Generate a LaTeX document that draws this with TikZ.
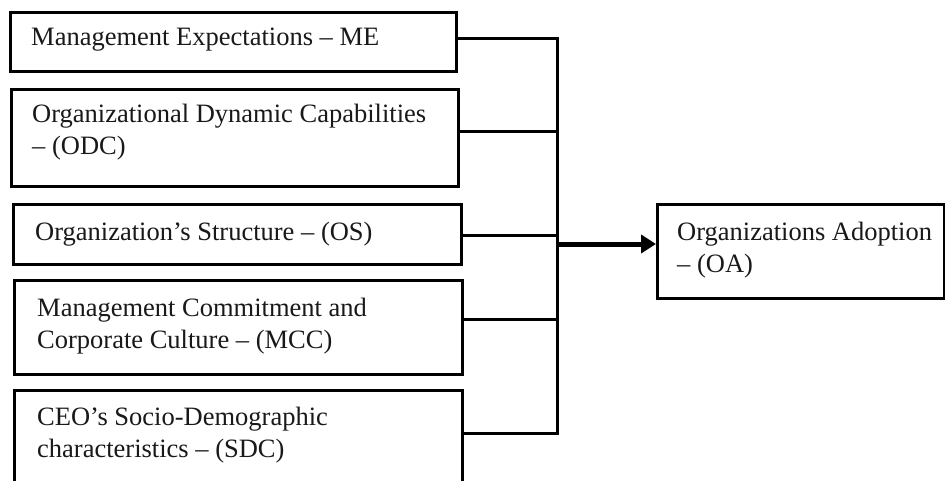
\documentclass[tikz,border=0pt]{standalone}
\usepackage{fontspec}
\setmainfont{Liberation Serif}
\usetikzlibrary{arrows.meta,calc}
\begin{document}
\begin{tikzpicture}[x=1pt,y=-1pt,
  boxst/.style={draw=black,line width=3pt,fill=none,inner sep=0pt,anchor=north west},
  lbl/.style={anchor=base west,inner sep=0pt,align=left,text=black!90,
    font=\fontsize{26.5}{32}\selectfont},
  link/.style={draw=black,line width=3pt},
  mainarrow/.style={draw=black,line width=5pt,-{Triangle[length=15pt,width=18pt]}}]
\useasboundingbox (0,0) rectangle (945,480);
\fill[white] (0,0) rectangle (945,480);
\begin{scope}
\clip (0,0) rectangle (945,480);
% boxes
\node[boxst,minimum width=446pt,minimum height=59pt] (me) at (8.5,11) {};
\node[boxst,minimum width=447pt,minimum height=97pt] (odc) at (9.5,88) {};
\node[boxst,minimum width=448pt,minimum height=60pt] (os) at (12,203) {};
\node[boxst,minimum width=448pt,minimum height=94pt] (mcc) at (13,279) {};
\node[boxst,minimum width=448pt,minimum height=100pt] (sdc) at (13,389) {};
\node[boxst,minimum width=287pt,minimum height=94pt] (oa) at (656,203) {};
% labels (anchor base = baseline of the last line)
\node[lbl] (tme) at (31,45) {Management Expectations -- ME};
\node[lbl] (todc) at (32,154) {Organizational Dynamic Capabilities\\-- (ODC)};
\node[lbl] (tos) at (35,240) {Organization’s Structure -- (OS)};
\node[lbl] (tmcc) at (37,348) {Management Commitment and\\Corporate Culture -- (MCC)};
\node[lbl] (tsdc) at (37,457) {CEO’s Socio-Demographic\\characteristics -- (SDC)};
\node[lbl] (toa) at (677,272) {Organizations Adoption\\-- (OA)};
% junction points on the bus
\coordinate (j1) at (557,38);
\coordinate (j2) at (557,131);
\coordinate (j3) at (557,235);
\coordinate (j4) at (557,319);
\coordinate (j5) at (557,433);
\coordinate (jo) at (557,244);
% connectors
\draw[link] (me.east |- j1) -- (j1);
\draw[link] (odc.east |- j2) -- (j2);
\draw[link] (os.east |- j3) -- (j3);
\draw[link] (mcc.east |- j4) -- (j4);
\draw[link] (sdc.east |- j5) -- (j5);
\draw[link,line cap=rect] (j1) -- (j5);
\draw[mainarrow] (jo) -- (oa.west |- jo);
\end{scope}
\end{tikzpicture}
\end{document}
